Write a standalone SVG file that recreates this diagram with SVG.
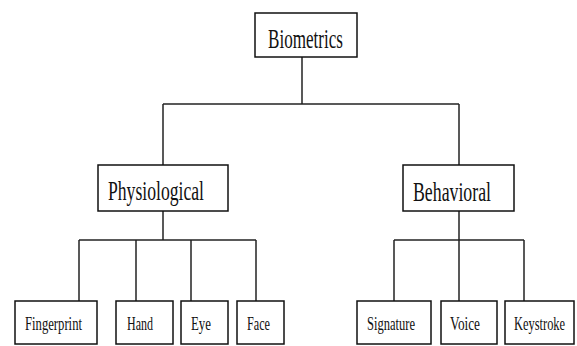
<svg xmlns="http://www.w3.org/2000/svg" width="577" height="346" viewBox="0 0 577 346">
<style>
.box{fill:#fff;stroke:#111;stroke-width:1.5}
.t{font-family:"Liberation Serif","Times New Roman",serif;fill:#111}
.big{font-size:27px}
.small{font-size:19px}
#connectors line{stroke:#222;stroke-width:1.5}
</style>
<rect width="577" height="346" fill="#fff"/>
<g id="connectors">
<line x1="302" y1="57" x2="302" y2="104"/>
<line x1="163" y1="104" x2="459" y2="104"/>
<line x1="163" y1="104" x2="163" y2="165"/>
<line x1="459" y1="104" x2="459" y2="165"/>
<line x1="163" y1="211" x2="163" y2="240"/>
<line x1="79" y1="240" x2="256" y2="240"/>
<line x1="79" y1="240" x2="79" y2="301"/>
<line x1="136" y1="240" x2="136" y2="301"/>
<line x1="191" y1="240" x2="191" y2="301"/>
<line x1="256" y1="240" x2="256" y2="301"/>
<line x1="459" y1="211" x2="459" y2="240"/>
<line x1="394" y1="240" x2="524" y2="240"/>
<line x1="394" y1="240" x2="394" y2="301"/>
<line x1="459" y1="240" x2="459" y2="301"/>
<line x1="524" y1="240" x2="524" y2="301"/>
</g>
<g id="biometrics">
<rect class="box" x="255" y="13" width="102" height="44"/>
<text class="t big" x="268" y="48" textLength="75" lengthAdjust="spacingAndGlyphs">Biometrics</text>
</g>
<g id="physiological">
<rect class="box" x="98" y="165" width="130" height="46"/>
<text class="t big" x="108" y="200" textLength="96" lengthAdjust="spacingAndGlyphs">Physiological</text>
</g>
<g id="behavioral">
<rect class="box" x="403" y="165" width="111" height="46"/>
<text class="t big" x="413" y="201" textLength="78" lengthAdjust="spacingAndGlyphs">Behavioral</text>
</g>
<g id="fingerprint">
<rect class="box" x="15" y="301" width="82" height="43"/>
<text class="t small" x="25" y="330" textLength="57" lengthAdjust="spacingAndGlyphs">Fingerprint</text>
</g>
<g id="hand">
<rect class="box" x="116" y="301" width="57" height="43"/>
<text class="t small" x="127" y="330" textLength="26" lengthAdjust="spacingAndGlyphs">Hand</text>
</g>
<g id="eye">
<rect class="box" x="181" y="301" width="47" height="43"/>
<text class="t small" x="191" y="330" textLength="20" lengthAdjust="spacingAndGlyphs">Eye</text>
</g>
<g id="face">
<rect class="box" x="237" y="301" width="47" height="43"/>
<text class="t small" x="247" y="330" textLength="23" lengthAdjust="spacingAndGlyphs">Face</text>
</g>
<g id="signature">
<rect class="box" x="357" y="301" width="74" height="43"/>
<text class="t small" x="367" y="330" textLength="48" lengthAdjust="spacingAndGlyphs">Signature</text>
</g>
<g id="voice">
<rect class="box" x="441" y="301" width="56" height="43"/>
<text class="t small" x="450" y="330" textLength="30" lengthAdjust="spacingAndGlyphs">Voice</text>
</g>
<g id="keystroke">
<rect class="box" x="505" y="301" width="69" height="43"/>
<text class="t small" transform="translate(514,330) scale(0.655,1)">Keystroke</text>
</g>
</svg>
